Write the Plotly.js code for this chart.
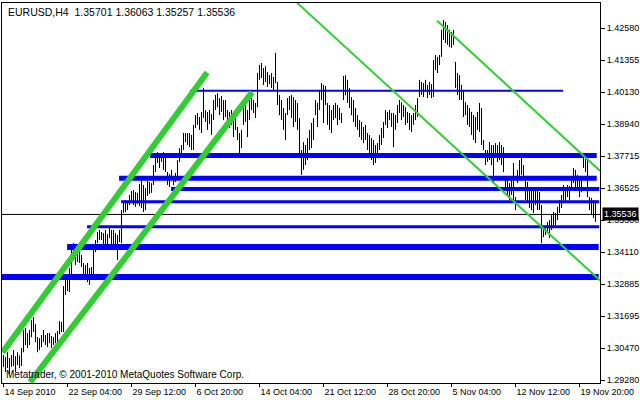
<!DOCTYPE html>
<html><head><meta charset="utf-8">
<script src="https://cdn.plot.ly/plotly-3.0.1.min.js"></script>
<style>html,body{margin:0;padding:0;background:#fff}#chart{width:640px;height:400px}</style>
</head><body><div id="chart"></div>
<script>
// ---- data ----
const symbol = "EURUSD,H4";
const lastOpen = 1.35701, lastHigh = 1.36063, lastLow = 1.35257, lastClose = 1.35536;

const barHigh = [
1.3022,1.3015,1.3033,1.3011,1.3022,1.3041,1.3018,1.3033,1.3022,1.3049,
1.3117,1.3124,1.3105,1.3117,1.3154,1.3166,1.3139,1.3090,1.3086,1.3098,
1.3117,1.3098,1.3105,1.3105,1.3094,1.3090,1.3105,1.3113,1.3151,1.3147,
1.3283,1.3317,1.3321,1.3351,1.3442,1.3445,1.3427,1.3415,1.3419,1.3400,
1.3370,1.3362,1.3370,1.3351,1.3355,1.3427,1.3457,1.3487,1.3495,1.3487,
1.3483,1.3495,1.3479,1.3502,1.3495,1.3495,1.3483,1.3476,1.3495,1.3570,
1.3600,1.3608,1.3604,1.3627,1.3642,1.3646,1.3638,1.3635,1.3669,1.3684,
1.3665,1.3653,1.3680,1.3676,1.3672,1.3740,1.3771,1.3789,1.3786,1.3778,
1.3789,1.3767,1.3714,1.3706,1.3722,1.3699,1.3710,1.3759,1.3804,1.3816,
1.3861,1.3861,1.3861,1.3861,1.3854,1.3892,1.3929,1.3937,1.3922,1.3941,
1.4031,1.3948,1.3941,1.3948,1.3933,1.3986,1.4005,1.4012,1.3993,1.4001,
1.3986,1.3986,1.3948,1.3941,1.3948,1.3937,1.3929,1.3884,1.3861,1.3873,
1.3967,1.3975,1.3948,1.3986,1.3993,1.3986,1.3975,1.4088,1.4118,1.4126,
1.4107,1.4114,1.4092,1.4080,1.4088,1.4073,1.4164,1.4054,1.4005,1.3986,
1.3956,1.3937,1.3993,1.4001,1.4005,1.3997,1.3986,1.3975,1.3918,1.3797,
1.3827,1.3816,1.3842,1.3873,1.3899,1.3918,1.3986,1.3975,1.4024,1.4050,
1.4043,1.4039,1.3975,1.3967,1.3948,1.3967,1.3975,1.3967,1.3956,1.3937,
1.4077,1.4080,1.4062,1.4031,1.3997,1.3986,1.3956,1.3929,1.3910,1.3903,
1.3884,1.3892,1.3861,1.3854,1.3842,1.3835,1.3816,1.3823,1.3854,1.3880,
1.3903,1.3948,1.3941,1.3948,1.3937,1.3937,1.3929,1.3967,1.3986,1.3978,
1.3967,1.3959,1.3941,1.3937,1.3929,1.3937,1.3967,1.3993,1.4062,1.4054,
1.4050,1.4062,1.4043,1.4054,1.4046,1.4137,1.4156,1.4149,1.4156,1.4251,
1.4288,1.4281,1.4269,1.4251,1.4243,1.4251,1.4130,1.4088,1.4080,1.4043,
1.4024,1.3978,1.3967,1.3956,1.3941,1.3929,1.3922,1.3941,1.3975,1.3956,
1.3835,1.3797,1.3797,1.3827,1.3816,1.3816,1.3823,1.3816,1.3827,1.3816,
1.3808,1.3695,1.3684,1.3672,1.3691,1.3748,1.3619,1.3722,1.3759,1.3771,
1.3740,1.3684,1.3676,1.3653,1.3646,1.3653,1.3646,1.3653,1.3638,1.3589,
1.3506,1.3502,1.3525,1.3532,1.3551,1.3563,1.3559,1.3582,1.3608,1.3627,
1.3665,1.3653,1.3665,1.3661,1.3695,1.3729,1.3722,1.3703,1.3691,1.3684,
1.3778,1.3771,1.3759,1.3619,1.3616,1.3608,1.36063
];
const barLow = [
1.2977,1.2958,1.2973,1.2950,1.2977,1.2981,1.2958,1.2984,1.2973,1.2981,
1.3033,1.3060,1.3049,1.3060,1.3090,1.3109,1.3071,1.3033,1.3041,1.3052,
1.3071,1.3060,1.3052,1.3067,1.3049,1.3060,1.3067,1.3067,1.3101,1.3109,
1.3109,1.3249,1.3264,1.3260,1.3317,1.3381,1.3362,1.3374,1.3370,1.3355,
1.3306,1.3306,1.3298,1.3287,1.3306,1.3306,1.3411,1.3445,1.3457,1.3457,
1.3438,1.3438,1.3427,1.3464,1.3438,1.3438,1.3434,1.3381,1.3449,1.3445,
1.3559,1.3563,1.3570,1.3589,1.3597,1.3589,1.3582,1.3593,1.3585,1.3578,
1.3563,1.3570,1.3623,1.3631,1.3635,1.3665,1.3714,1.3748,1.3729,1.3752,
1.3722,1.3714,1.3665,1.3657,1.3684,1.3665,1.3676,1.3691,1.3752,1.3767,
1.3797,1.3827,1.3816,1.3808,1.3797,1.3797,1.3880,1.3892,1.3873,1.3861,
1.3918,1.3903,1.3873,1.3895,1.3854,1.3910,1.3948,1.3959,1.3929,1.3941,
1.3910,1.3922,1.3899,1.3880,1.3892,1.3846,1.3873,1.3835,1.3778,1.3804,
1.3892,1.3903,1.3846,1.3910,1.3948,1.3937,1.3918,1.3959,1.4062,1.4069,
1.4043,1.4054,1.4035,1.4046,1.4031,1.4024,1.4050,1.3967,1.3929,1.3910,
1.3873,1.3835,1.3929,1.3948,1.3918,1.3884,1.3903,1.3873,1.3771,1.3703,
1.3722,1.3740,1.3759,1.3797,1.3804,1.3835,1.3929,1.3884,1.3948,1.3986,
1.3899,1.3967,1.3892,1.3873,1.3861,1.3910,1.3918,1.3892,1.3910,1.3899,
1.3986,1.4005,1.3975,1.3956,1.3929,1.3903,1.3884,1.3873,1.3846,1.3835,
1.3823,1.3835,1.3797,1.3778,1.3759,1.3740,1.3748,1.3767,1.3797,1.3816,
1.3842,1.3892,1.3880,1.3910,1.3884,1.3808,1.3873,1.3899,1.3937,1.3910,
1.3922,1.3892,1.3899,1.3873,1.3865,1.3892,1.3910,1.3922,1.3997,1.4005,
1.3997,1.4016,1.3993,1.4005,1.3993,1.3997,1.4099,1.4088,1.4118,1.4149,
1.4213,1.4201,1.4194,1.4186,1.4183,1.4194,1.4031,1.4005,1.3986,1.3986,
1.3922,1.3929,1.3892,1.3884,1.3854,1.3835,1.3823,1.3873,1.3865,1.3816,
1.3797,1.3740,1.3752,1.3759,1.3740,1.3676,1.3778,1.3752,1.3759,1.3740,
1.3714,1.3646,1.3627,1.3608,1.3627,1.3608,1.3570,1.3672,1.3691,1.3703,
1.3684,1.3608,1.3600,1.3578,1.3570,1.3559,1.3589,1.3570,1.3570,1.3445,
1.3468,1.3476,1.3483,1.3464,1.3495,1.3502,1.3514,1.3532,1.3559,1.3578,
1.3608,1.3600,1.3619,1.3608,1.3646,1.3672,1.3653,1.3646,1.3619,1.3638,
1.3729,1.3714,1.3619,1.3570,1.3551,1.3540,1.35257
];

// x-axis labels (every 32 H4 bars)
const xTickBars = [0, 32, 64, 96, 128, 160, 192, 224, 256, 288];
const xTickLabels = ["14 Sep 2010","22 Sep 04:00","29 Sep 12:00","6 Oct 20:00","14 Oct 04:00",
                     "21 Oct 12:00","28 Oct 20:00","5 Nov 04:00","12 Nov 12:00","19 Nov 20:00"];
// y-axis labels (top to bottom)
const yTickLabels = ["1.42580","1.41355","1.40130","1.38940","1.37715","1.36525",
                     "1.35300","1.34110","1.32885","1.31695","1.30470","1.29280"];

// horizontal levels (blue)
const levelPrice = [1.4021, 1.3776, 1.3690, 1.3650, 1.3602, 1.3507, 1.3431, 1.3317];
const levelFromBar = [93.3, 73.3, 57.8, 83.8, 58.8, 41.8, 31.8, -0.8];
const levelToBar   = [279.8, 296.6, 296.6, 297.9, 297.9, 297.9, 297.6, 297.6];
const levelWidth   = [2, 5, 5, 4, 3, 3, 6, 6];

// trend lines (green)
const trendFromBar   = [-0.5, 13.3, 146.8, 216.8];
const trendFromPrice = [1.3032, 1.2920, 1.4353, 1.4285];
const trendToBar     = [101.8, 124.3, 298.3, 298.3];
const trendToPrice   = [1.4090, 1.4016, 1.3304, 1.3718];
const trendWidth     = [6, 6, 2, 2];

// ---- build ----
const bx = [], by = [];
for (let i = 0; i < barHigh.length; i++) {
  bx.push(i, i, null);
  by.push(barLow[i], barHigh[i], null);
}
const yTop = 1.43525, yBot = 1.29167;
const yTickVals = yTickLabels.map((t, k) =>
  parseFloat(yTickLabels[0]) - k * (parseFloat(yTickLabels[0]) - parseFloat(yTickLabels[yTickLabels.length - 1])) / (yTickLabels.length - 1));

const shapes = [];
shapes.push({type:'line', xref:'paper', yref:'y', x0:0, x1:1, y0:lastClose, y1:lastClose,
  line:{color:'#000', width:1}});
levelPrice.forEach((p, k) => shapes.push({type:'line', xref:'x', yref:'y',
  x0:levelFromBar[k], x1:levelToBar[k], y0:p, y1:p, line:{color:'#0000FF', width:levelWidth[k]}}));
trendFromBar.forEach((b, k) => shapes.push({type:'line', xref:'x', yref:'y',
  x0:b, x1:trendToBar[k], y0:trendFromPrice[k], y1:trendToPrice[k],
  line:{color:'#32CD32', width:trendWidth[k]}}));

const fam = '"Liberation Sans", Arial, sans-serif';
const font = {family:fam, size:9, color:'#000'};
const layout = {
  width:640, height:400,
  margin:{l:2, r:40, t:3, b:17, pad:0},
  paper_bgcolor:'#fff', plot_bgcolor:'#fff',
  showlegend:false, font:font,
  xaxis:{range:[-0.75, 298.25], tickmode:'array', tickvals:xTickBars, ticktext:xTickLabels,
    ticks:'outside', ticklen:3, tickcolor:'#000', showline:true, mirror:true, linecolor:'#000',
    linewidth:1, showgrid:false, zeroline:false, ticklabelposition:'outside right',
    tickfont:font, fixedrange:true},
  yaxis:{range:[yBot, yTop], side:'right', tickmode:'array', tickvals:yTickVals, ticktext:yTickLabels,
    ticks:'outside', ticklen:4, tickcolor:'#000', showline:true, mirror:true, linecolor:'#000',
    linewidth:1, showgrid:false, zeroline:false, tickfont:font, fixedrange:true},
  shapes:shapes,
  annotations:[
    {xref:'paper', yref:'paper', x:0, y:1, xanchor:'left', yanchor:'top', xshift:4, yshift:-1,
     showarrow:false, text:symbol + '  ' + [lastOpen, lastHigh, lastLow, lastClose].map(v => v.toFixed(5)).join(' '),
     font:{family:fam, size:10.5, color:'#000'}},
    {xref:'paper', yref:'paper', x:0, y:0, xanchor:'left', yanchor:'bottom', xshift:2, yshift:1,
     showarrow:false, text:'Metatrader, © 2001-2010 MetaQuotes Software Corp.',
     font:{family:fam, size:10, color:'#000'}},
    {xref:'paper', yref:'y', x:1, y:lastClose, xanchor:'left', yanchor:'middle', xshift:2,
     showarrow:false, text:lastClose.toFixed(5), bgcolor:'#000', borderpad:1,
     font:{family:fam, size:9, color:'#fff'}}
  ]
};
const data = [{type:'scatter', mode:'lines', x:bx, y:by, line:{color:'#000', width:1},
  hoverinfo:'skip', connectgaps:false}];
Plotly.newPlot('chart', data, layout, {staticPlot:true, displayModeBar:false});
</script></body></html>
